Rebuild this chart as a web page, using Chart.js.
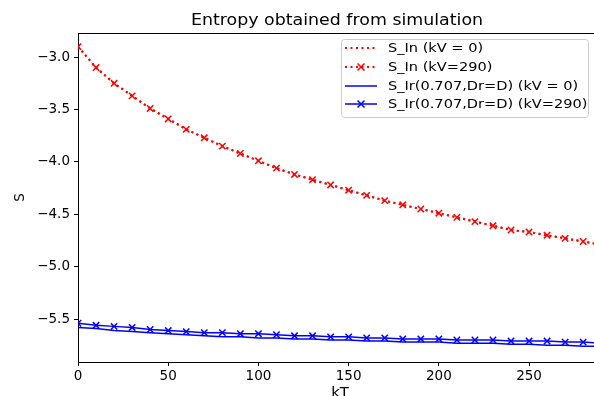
<!DOCTYPE html>
<html>
<head>
<meta charset="utf-8">
<script src="https://cdn.jsdelivr.net/npm/chart.js@4/dist/chart.umd.min.js"></script>
<style>
  html, body { margin: 0; padding: 0; background: #fff; }
  #chart { display: block; }
</style>
</head>
<body>
<canvas id="chart" width="594" height="396"></canvas>
<script>
"use strict";

const kT = [0, 10, 20, 30, 40, 50, 60, 70, 80, 90, 100, 110, 120, 130, 140,
    150, 160, 170, 180, 190, 200, 210, 220, 230, 240, 250, 260, 270, 280, 290];

const sInKv0 = [-2.90, -3.10, -3.25, -3.37, -3.49, -3.59, -3.69, -3.77, -3.85, -3.92,
    -3.99, -4.06, -4.12, -4.17, -4.22, -4.27, -4.32, -4.37, -4.41, -4.45,
    -4.49, -4.53, -4.57, -4.61, -4.65, -4.67, -4.70, -4.73, -4.76, -4.79];
const sInKv290 = [-2.90, -3.10, -3.25, -3.37, -3.49, -3.59, -3.69, -3.77, -3.85, -3.92,
    -3.99, -4.06, -4.12, -4.17, -4.22, -4.27, -4.32, -4.37, -4.41, -4.45,
    -4.49, -4.53, -4.57, -4.61, -4.65, -4.67, -4.70, -4.73, -4.76, -4.79];
const sIrKv0 = [-5.58, -5.59, -5.61, -5.62, -5.63, -5.64, -5.65, -5.66, -5.67, -5.67,
    -5.68, -5.68, -5.69, -5.69, -5.70, -5.70, -5.71, -5.71, -5.72, -5.72,
    -5.72, -5.73, -5.73, -5.73, -5.74, -5.74, -5.75, -5.75, -5.76, -5.76];
const sIrKv290 = [-5.54, -5.56, -5.57, -5.58, -5.60, -5.61, -5.62, -5.63, -5.63, -5.64,
    -5.64, -5.65, -5.66, -5.66, -5.67, -5.67, -5.68, -5.68, -5.69, -5.69,
    -5.69, -5.70, -5.70, -5.70, -5.71, -5.71, -5.71, -5.72, -5.72, -5.73];

const seriesLabels = ["S_In (kV = 0)", "S_In (kV=290)",
    "S_Ir(0.707,Dr=D) (kV = 0)", "S_Ir(0.707,Dr=D) (kV=290)"];

const FONT = "'DejaVu Sans', sans-serif";

function toPoints(values) {
    return kT.map((x, i) => ({ x, y: values[i] }));
}

function makeSet(label, values, color, dashed, marker) {
    return {
        label,
        data: toPoints(values),
        borderColor: color,
        backgroundColor: color,
        borderWidth: dashed ? 2 : 1.5,
        borderDash: dashed ? [2, 3.5] : [],
        pointStyle: "crossRot",
        pointRadius: marker ? 4.5 : 0,
        pointBorderWidth: 1.5,
        pointHoverRadius: 0,
        tension: 0
    };
}

// the reference text is a bit wider than it is tall
function wideText(ctx, text, x, y, stretch) {
    ctx.save();
    ctx.translate(x, y);
    ctx.scale(stretch, 1);
    ctx.fillText(text, 0, 0);
    ctx.restore();
}

const frame = {
    id: "frame",
    afterDraw(chart) {
        const { ctx, chartArea } = chart;
        ctx.save();
        ctx.strokeStyle = "#000";
        ctx.lineWidth = 1;
        ctx.beginPath();
        ctx.moveTo(chartArea.left, chartArea.top + 0.5);
        ctx.lineTo(chartArea.right, chartArea.top + 0.5);
        ctx.stroke();

        // title
        ctx.fillStyle = "#000";
        ctx.font = "15px " + FONT;
        ctx.textAlign = "center";
        ctx.textBaseline = "alphabetic";
        wideText(ctx, "Entropy obtained from simulation", 337, 25, 1.16);

        // x axis title, partly cut by the bottom edge as in the reference
        ctx.font = "13.5px " + FONT;
        ctx.textBaseline = "middle";
        wideText(ctx, "kT", 340, 393, 1.1);

        // legend, matplotlib style
        const bx = 341, by = 39, bw = 247, bh = 78;
        ctx.fillStyle = "rgba(255,255,255,0.8)";
        ctx.strokeStyle = "#cccccc";
        ctx.beginPath();
        ctx.roundRect(bx + 0.5, by + 0.5, bw, bh, 3);
        ctx.fill();
        ctx.stroke();

        const rows = [48, 67, 86, 104];
        chart.data.datasets.forEach((ds, i) => {
            const y = rows[i];
            ctx.strokeStyle = ds.borderColor;
            ctx.lineWidth = ds.borderWidth;
            ctx.setLineDash(ds.borderDash);
            ctx.beginPath();
            ctx.moveTo(345, y);
            ctx.lineTo(377, y);
            ctx.stroke();
            ctx.setLineDash([]);
            if (ds.pointRadius > 0) {
                const r = 3.5;
                ctx.lineWidth = 1.5;
                ctx.beginPath();
                ctx.moveTo(361 - r, y - r);
                ctx.lineTo(361 + r, y + r);
                ctx.moveTo(361 - r, y + r);
                ctx.lineTo(361 + r, y - r);
                ctx.stroke();
            }
            ctx.fillStyle = "#000";
            ctx.font = "13px " + FONT;
            ctx.textAlign = "left";
            ctx.textBaseline = "middle";
            wideText(ctx, ds.label, 388, y + 1, 1.12);
        });
        ctx.restore();
    }
};

const minus = (v, digits) => v.toFixed(digits).replace("-", "\u2212");

new Chart(document.getElementById("chart").getContext("2d"), {
    type: "line",
    data: {
        datasets: [
            makeSet(seriesLabels[0], sInKv0, "#ff0000", true, false),
            makeSet(seriesLabels[1], sInKv290, "#ff0000", true, true),
            makeSet(seriesLabels[2], sIrKv0, "#0000ff", false, false),
            makeSet(seriesLabels[3], sIrKv290, "#0000ff", false, true)
        ]
    },
    options: {
        responsive: false,
        animation: false,
        devicePixelRatio: 1,
        layout: { autoPadding: false, padding: { top: 33, left: 0, right: 0, bottom: 0 } },
        plugins: {
            legend: { display: false },
            tooltip: { enabled: false },
            title: { display: false }
        },
        scales: {
            x: {
                type: "linear",
                min: 0,
                max: 286,
                afterFit(scale) {
                    scale.height = 34;
                    scale.paddingLeft = 0;
                    scale.paddingRight = 0;
                },
                border: { display: true, color: "#000", width: 1 },
                grid: { drawOnChartArea: false, drawTicks: true, tickLength: 4, color: "#000" },
                ticks: {
                    stepSize: 50,
                    includeBounds: false,
                    maxRotation: 0,
                    padding: 2,
                    color: "#000",
                    font: { family: FONT, size: 13.5 },
                    callback: (v) => minus(v, 0)
                }
            },
            y: {
                type: "linear",
                min: -5.91,
                max: -2.77,
                afterFit(scale) {
                    scale.width = 78;
                    scale.paddingTop = 0;
                    scale.paddingBottom = 0;
                },
                border: { display: true, color: "#000", width: 1 },
                grid: { drawOnChartArea: false, drawTicks: true, tickLength: 4, color: "#000" },
                ticks: {
                    stepSize: 0.5,
                    includeBounds: false,
                    padding: 4,
                    color: "#000",
                    font: { family: FONT, size: 13.5 },
                    callback: (v) => minus(v, 1)
                },
                title: {
                    display: true,
                    text: "S",
                    color: "#000",
                    font: { family: FONT, size: 13.5 },
                    padding: { top: 12, bottom: 0 }
                }
            }
        }
    },
    plugins: [frame]
});
</script>
</body>
</html>
